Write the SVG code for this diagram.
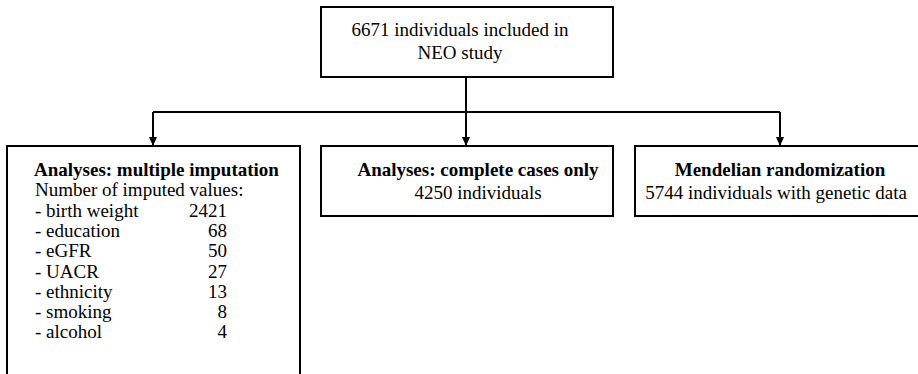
<svg xmlns="http://www.w3.org/2000/svg" width="918" height="374" viewBox="0 0 918 374">
<style>
.box{fill:#fff;stroke:#000;stroke-width:2}
text{font-family:'Liberation Serif','Times New Roman',Times,serif;font-size:19px;fill:#000}
.b{font-weight:bold}
.c{stroke:#000;stroke-width:2;fill:none}
</style>
<defs>
<marker id="ah" markerWidth="10" markerHeight="10" refX="8" refY="5" orient="auto" markerUnits="userSpaceOnUse">
<path d="M0,1 L9,5 L0,9 Z" fill="#000"/>
</marker>
</defs>
<rect width="918" height="374" fill="#fff"/>
<g id="connectors">
<line class="c" x1="466" y1="77" x2="466" y2="112"/>
<line class="c" x1="153" y1="112" x2="780" y2="112"/>
<line class="c" x1="153" y1="112" x2="153" y2="145" marker-end="url(#ah)"/>
<line class="c" x1="466" y1="112" x2="466" y2="145" marker-end="url(#ah)"/>
<line class="c" x1="780" y1="112" x2="780" y2="145" marker-end="url(#ah)"/>
</g>
<g id="top">
<rect class="box" x="321" y="7" width="292" height="70"/>
<text x="460" y="36" text-anchor="middle">6671 individuals included in</text>
<text x="460" y="59" text-anchor="middle">NEO study</text>
</g>
<g id="multiple">
<rect class="box" x="7" y="146" width="293" height="240"/>
<text class="b" x="34" y="176">Analyses: multiple imputation</text>
<text x="35" y="196">Number of imputed values:</text>
<text x="35" y="217">- birth weight</text>
<text x="35" y="237">- education</text>
<text x="35" y="257">- eGFR</text>
<text x="35" y="278">- UACR</text>
<text x="35" y="298">- ethnicity</text>
<text x="35" y="318">- smoking</text>
<text x="35" y="338">- alcohol</text>
<g text-anchor="end">
<text x="227" y="217">2421</text>
<text x="227" y="237">68</text>
<text x="227" y="257">50</text>
<text x="227" y="278">27</text>
<text x="227" y="298">13</text>
<text x="227" y="318">8</text>
<text x="227" y="338">4</text>
</g>
</g>
<g id="complete">
<rect class="box" x="321" y="146" width="292" height="70"/>
<text class="b" x="478" y="176" text-anchor="middle">Analyses: complete cases only</text>
<text x="478" y="199" text-anchor="middle">4250 individuals</text>
</g>
<g id="mendelian">
<rect class="box" x="635" y="146" width="300" height="70"/>
<text class="b" x="780" y="176" text-anchor="middle">Mendelian randomization</text>
<text x="776" y="199" text-anchor="middle">5744 individuals with genetic data</text>
</g>
</svg>
